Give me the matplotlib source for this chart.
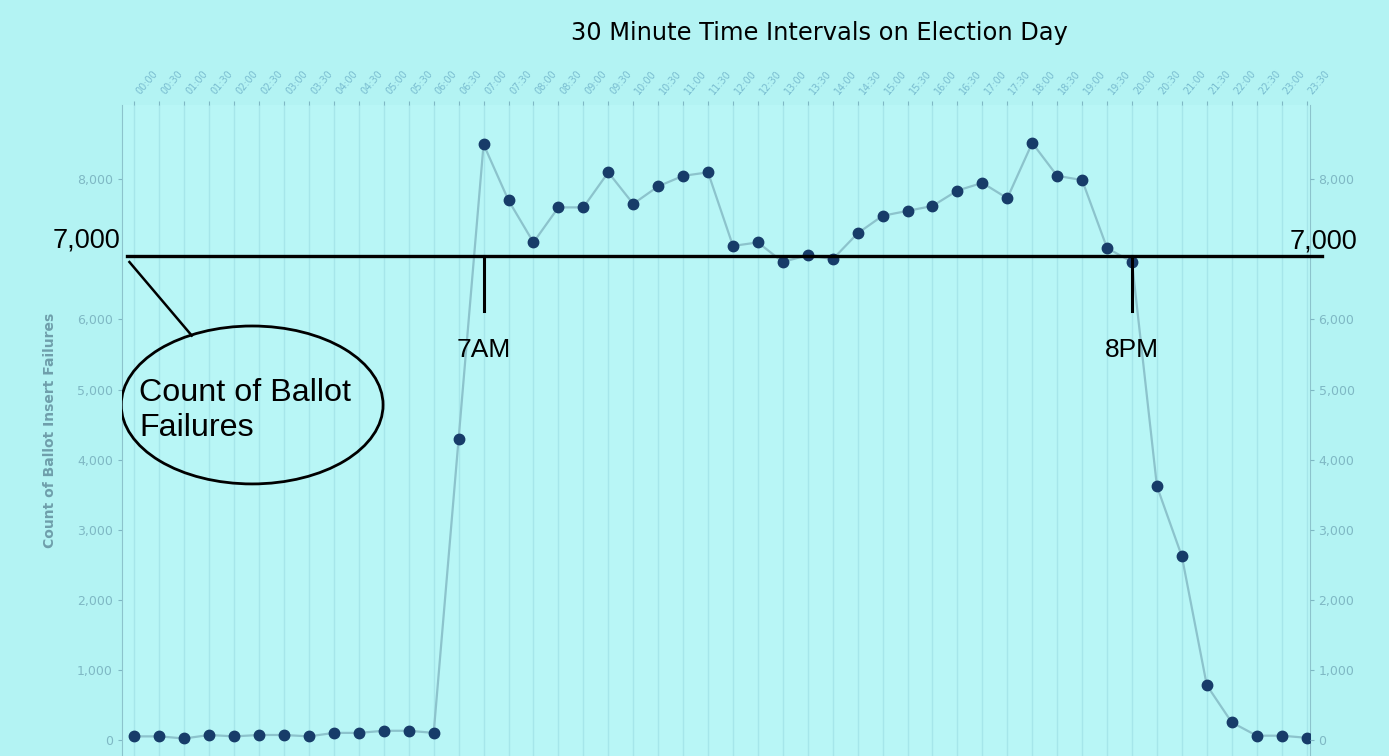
import matplotlib.pyplot as plt
from matplotlib.patches import Ellipse
from matplotlib.ticker import FuncFormatter

# half-hour slots on election day
times = ['%02d:%02d' % (h, m) for h in range(24) for m in (0, 30)]
failures = [50, 50, 20, 70, 50, 70, 70, 50, 100, 100, 130, 130, 100,
            4300, 8500, 7700, 7100, 7600, 7600, 8100, 7650, 7900, 8050, 8100,
            7050, 7100, 6820, 6920, 6860, 7230, 7480, 7550, 7620, 7840, 7950,
            7730, 8520, 8050, 7990, 7020, 6820,
            3620, 2620, 780, 250, 60, 60, 30]
y_ticks = [0, 1000, 2000, 3000, 4000, 5000, 6000, 8000]

bg = '#b3f3f3'
faint = '#7fb8c4'
hand = 'Liberation Sans'

fig = plt.figure(figsize=(13.89, 7.56), dpi=100, facecolor=bg)
ax = fig.add_axes([0.0878, 0.0, 0.855, 0.861])
ax.set_facecolor('#b8f6f6')

x = list(range(len(times)))
ax.plot(x, failures, color='#8cc3cc', lw=1.6, zorder=3)
ax.plot(x, failures, 'o', color='#173c69', ms=7.5, zorder=4)

ax.set_xlim(-0.5, 47.12)
ax.set_ylim(-230, 9060)

# time labels along the top
ax.xaxis.tick_top()
ax.set_xticks(x)
ax.set_xticklabels(times, rotation=50, fontsize=7, color='#79bcd0', ha='left')
ax.tick_params(axis='x', length=3, color=faint)
ax.grid(axis='x', color='#a6e6ea', lw=1)

ax.set_yticks(y_ticks)
fmt = FuncFormatter(lambda v, p: '{:,.0f}'.format(v))
ax.yaxis.set_major_formatter(fmt)
ax.tick_params(axis='y', labelsize=9, colors=faint, length=3)
ax.set_ylabel('Count of Ballot Insert Failures', fontsize=10, color='#6f9fab',
              fontweight='bold', labelpad=14)
for s in ['top', 'bottom']:
    ax.spines[s].set_visible(False)
for s in ['left', 'right']:
    ax.spines[s].set_color('#8cc3cc')

ax2 = ax.twinx()
ax2.set_ylim(ax.get_ylim())
ax2.set_yticks(y_ticks)
ax2.yaxis.set_major_formatter(fmt)
ax2.tick_params(axis='y', labelsize=9, colors=faint, length=3)
for s in ['top', 'bottom', 'left', 'right']:
    ax2.spines[s].set_visible(False)

fig.text(0.59, 0.957, '30 Minute Time Intervals on Election Day',
         fontsize=17.4, ha='center', va='center', family='DejaVu Sans')

# hand-drawn annotations
line_y = 6900
ax.plot([-0.3, 47.6], [line_y, line_y], color='black', lw=2.4, clip_on=False, zorder=5)
ax.plot([14, 14], [line_y, 6120], color='black', lw=2.2, zorder=5)
ax.plot([40, 40], [line_y, 6120], color='black', lw=2.2, zorder=5)
ax.text(14, 5560, '7AM', fontsize=19, ha='center', va='center',
        family=hand, zorder=5)
ax.text(40, 5560, '8PM', fontsize=19, ha='center', va='center',
        family=hand, zorder=5)
fig.text(0.062, 0.682, '7,000', fontsize=19.5, ha='center', va='center', family=hand)
fig.text(0.9525, 0.68, '7,000', fontsize=19.5, ha='center', va='center', family=hand)
ax.plot([-0.2, 2.3], [6820, 5770], color='black', lw=1.8, zorder=5)
ax.add_patch(Ellipse((4.72, 4780), 10.5, 2254, fill=False, ec='black', lw=2, zorder=5))
ax.text(0.2, 4700, 'Count of Ballot\nFailures', fontsize=23.2, ha='left', va='center',
        family=hand, linespacing=1.2, zorder=6)

fig.savefig('out.png', dpi=100, facecolor=bg)
